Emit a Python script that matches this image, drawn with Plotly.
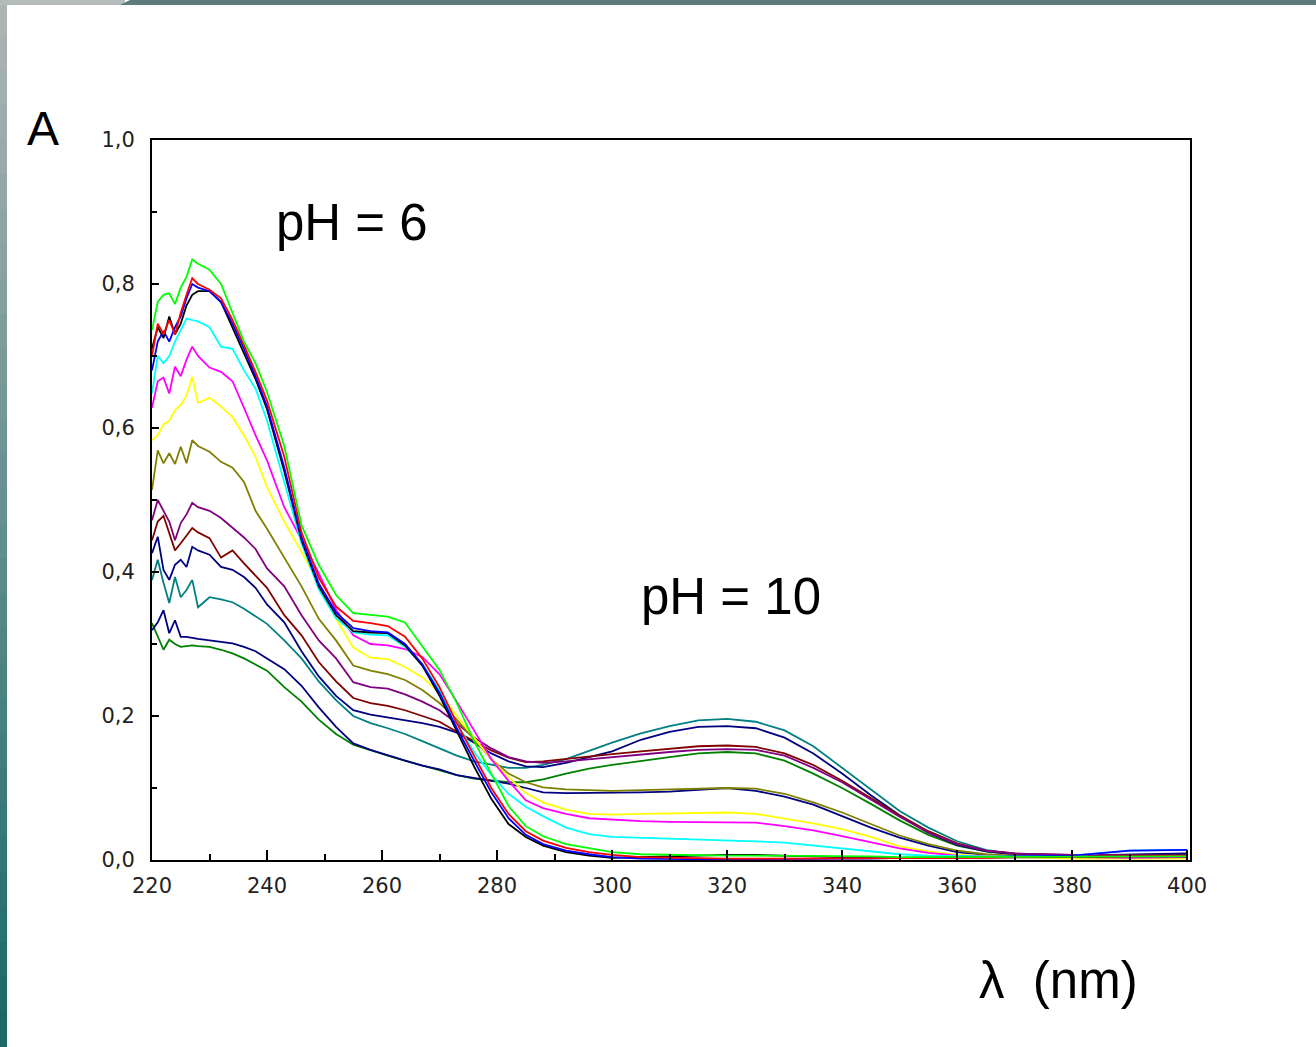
import plotly.graph_objects as go

# ---------------- data ----------------
wavelength = [220, 221, 222, 223, 224, 225, 226, 227, 228, 230, 232, 234, 236, 238, 240,
              243, 246, 249, 252, 255, 258, 261, 264, 267, 270, 273, 276, 279, 282, 285,
              288, 292, 296, 300, 305, 310, 315, 320, 325, 330, 335, 340, 345, 350, 355,
              360, 365, 370, 380, 390, 400]

a_green = [0.736, 0.775, 0.785, 0.787, 0.772, 0.795, 0.810, 0.834, 0.828, 0.820, 0.800, 0.760, 0.720, 0.690, 0.650,
           0.575, 0.465, 0.410, 0.368, 0.343, 0.340, 0.338, 0.330, 0.297, 0.264, 0.218, 0.165, 0.120, 0.075, 0.047,
           0.033, 0.022, 0.016, 0.011, 0.008, 0.007, 0.006, 0.006, 0.006, 0.006, 0.005, 0.005, 0.005, 0.004, 0.004,
           0.004, 0.004, 0.004, 0.004, 0.005, 0.005]
a_red = [0.700, 0.745, 0.730, 0.750, 0.730, 0.760, 0.785, 0.808, 0.800, 0.792, 0.780, 0.750, 0.715, 0.678, 0.638,
         0.560, 0.455, 0.392, 0.352, 0.332, 0.329, 0.325, 0.310, 0.280, 0.240, 0.190, 0.145, 0.100, 0.064, 0.040,
         0.027, 0.017, 0.011, 0.007, 0.004, 0.003, 0.002, 0.002, 0.002, 0.002, 0.002, 0.002, 0.002, 0.003, 0.003,
         0.003, 0.003, 0.004, 0.004, 0.005, 0.006]
a_blue = [0.680, 0.720, 0.735, 0.720, 0.740, 0.755, 0.780, 0.800, 0.795, 0.790, 0.775, 0.745, 0.710, 0.672, 0.630,
          0.545, 0.448, 0.384, 0.344, 0.322, 0.318, 0.316, 0.300, 0.272, 0.232, 0.183, 0.138, 0.094, 0.058, 0.035,
          0.022, 0.013, 0.008, 0.004, 0.002, 0.001, 0.001, 0.001, 0.001, 0.001, 0.001, 0.002, 0.002, 0.003, 0.003,
          0.003, 0.004, 0.005, 0.006, 0.013, 0.014]
a_black = [0.710, 0.740, 0.725, 0.755, 0.730, 0.745, 0.770, 0.785, 0.790, 0.790, 0.775, 0.740, 0.705, 0.668, 0.626,
           0.540, 0.444, 0.380, 0.340, 0.318, 0.316, 0.315, 0.298, 0.270, 0.228, 0.178, 0.130, 0.085, 0.050, 0.032,
           0.020, 0.011, 0.006, 0.003, 0.004, 0.006, 0.007, 0.007, 0.007, 0.006, 0.004, 0.003, 0.003, 0.003, 0.003,
           0.003, 0.003, 0.004, 0.004, 0.005, 0.005]
a_cyan = [0.648, 0.700, 0.690, 0.700, 0.720, 0.735, 0.752, 0.750, 0.748, 0.740, 0.713, 0.710, 0.680, 0.655, 0.610,
          0.525, 0.440, 0.376, 0.336, 0.316, 0.313, 0.312, 0.296, 0.272, 0.235, 0.190, 0.150, 0.118, 0.092, 0.074,
          0.061, 0.045, 0.036, 0.032, 0.031, 0.030, 0.029, 0.028, 0.026, 0.024, 0.020, 0.016, 0.011, 0.008, 0.006,
          0.005, 0.005, 0.005, 0.006, 0.013, 0.014]
a_magenta = [0.628, 0.665, 0.670, 0.648, 0.685, 0.672, 0.695, 0.713, 0.700, 0.684, 0.678, 0.665, 0.628, 0.590, 0.555,
             0.490, 0.445, 0.398, 0.348, 0.312, 0.300, 0.298, 0.293, 0.282, 0.258, 0.220, 0.180, 0.140, 0.110, 0.083,
             0.072, 0.064, 0.058, 0.056, 0.054, 0.053, 0.053, 0.053, 0.052, 0.047, 0.041, 0.033, 0.024, 0.016, 0.010,
             0.006, 0.005, 0.004, 0.004, 0.003, 0.004]
a_yellow = [0.583, 0.590, 0.605, 0.610, 0.625, 0.632, 0.645, 0.671, 0.635, 0.642, 0.630, 0.615, 0.590, 0.560, 0.518,
            0.470, 0.428, 0.385, 0.335, 0.295, 0.281, 0.279, 0.268, 0.254, 0.232, 0.200, 0.170, 0.140, 0.115, 0.093,
            0.080, 0.070, 0.064, 0.063, 0.064, 0.065, 0.066, 0.066, 0.064, 0.058, 0.051, 0.043, 0.032, 0.019, 0.012,
            0.007, 0.005, 0.004, 0.002, 0.002, 0.002]
a_olive = [0.514, 0.569, 0.551, 0.565, 0.550, 0.574, 0.551, 0.583, 0.575, 0.567, 0.553, 0.545, 0.525, 0.485, 0.460,
           0.420, 0.380, 0.335, 0.305, 0.270, 0.263, 0.258, 0.250, 0.236, 0.218, 0.195, 0.168, 0.140, 0.120, 0.108,
           0.101, 0.098, 0.097, 0.096, 0.097, 0.098, 0.099, 0.100, 0.099, 0.092, 0.080, 0.066, 0.050, 0.034, 0.022,
           0.013, 0.008, 0.006, 0.004, 0.004, 0.004]
a_purple = [0.472, 0.500, 0.485, 0.470, 0.444, 0.468, 0.480, 0.496, 0.490, 0.485, 0.475, 0.462, 0.448, 0.432, 0.405,
            0.380, 0.340, 0.305, 0.280, 0.247, 0.240, 0.238, 0.230, 0.220, 0.208, 0.190, 0.170, 0.155, 0.143, 0.137,
            0.135, 0.137, 0.140, 0.143, 0.147, 0.150, 0.153, 0.154, 0.153, 0.145, 0.128, 0.108, 0.084, 0.060, 0.038,
            0.022, 0.013, 0.009, 0.007, 0.006, 0.006]
a_maroon = [0.444, 0.470, 0.478, 0.455, 0.430, 0.440, 0.450, 0.461, 0.455, 0.447, 0.420, 0.430, 0.412, 0.395, 0.378,
            0.340, 0.312, 0.275, 0.248, 0.225, 0.218, 0.214, 0.208, 0.200, 0.192, 0.178, 0.165, 0.152, 0.142, 0.136,
            0.137, 0.140, 0.144, 0.147, 0.151, 0.155, 0.158, 0.159, 0.157, 0.148, 0.132, 0.110, 0.086, 0.062, 0.040,
            0.023, 0.013, 0.009, 0.007, 0.006, 0.006]
a_navy = [0.426, 0.449, 0.403, 0.389, 0.410, 0.417, 0.407, 0.435, 0.430, 0.424, 0.407, 0.403, 0.393, 0.378, 0.355,
          0.330, 0.290, 0.255, 0.228, 0.208, 0.202, 0.198, 0.195, 0.190, 0.185, 0.177, 0.163, 0.148, 0.137, 0.130,
          0.129, 0.135, 0.143, 0.151, 0.167, 0.178, 0.185, 0.186, 0.183, 0.170, 0.148, 0.120, 0.090, 0.062, 0.038,
          0.021, 0.012, 0.008, 0.006, 0.008, 0.009]
a_teal = [0.389, 0.417, 0.385, 0.357, 0.393, 0.365, 0.375, 0.389, 0.351, 0.365, 0.362, 0.358, 0.349, 0.338, 0.328,
          0.305, 0.280, 0.248, 0.222, 0.200, 0.190, 0.183, 0.175, 0.165, 0.155, 0.145, 0.137, 0.132, 0.128, 0.128,
          0.132, 0.140, 0.152, 0.163, 0.176, 0.186, 0.194, 0.196, 0.192, 0.180, 0.158, 0.128, 0.097, 0.068, 0.045,
          0.026, 0.014, 0.008, 0.006, 0.007, 0.008]
a_darkblue = [0.319, 0.330, 0.347, 0.315, 0.333, 0.310, 0.310, 0.308, 0.307, 0.305, 0.303, 0.301, 0.296, 0.290, 0.280,
              0.265, 0.242, 0.212, 0.185, 0.162, 0.153, 0.145, 0.138, 0.131, 0.126, 0.118, 0.114, 0.111, 0.106, 0.100,
              0.094, 0.093, 0.093, 0.093, 0.094, 0.095, 0.098, 0.100, 0.096, 0.088, 0.077, 0.061, 0.045, 0.031, 0.020,
              0.011, 0.007, 0.005, 0.004, 0.005, 0.005]
a_darkgreen = [0.329, 0.310, 0.292, 0.306, 0.300, 0.296, 0.297, 0.298, 0.297, 0.296, 0.292, 0.287, 0.280, 0.272, 0.263,
               0.240, 0.220, 0.195, 0.175, 0.160, 0.152, 0.145, 0.138, 0.131, 0.125, 0.118, 0.113, 0.110, 0.108, 0.108,
               0.112, 0.120, 0.127, 0.132, 0.138, 0.143, 0.148, 0.150, 0.148, 0.138, 0.120, 0.100, 0.078, 0.055, 0.035,
               0.020, 0.012, 0.008, 0.006, 0.007, 0.007]

series = [
    ("darkgreen", a_darkgreen, "#008000"),
    ("darkblue", a_darkblue, "#000080"),
    ("teal", a_teal, "#008080"),
    ("navy", a_navy, "#000080"),
    ("maroon", a_maroon, "#800000"),
    ("purple", a_purple, "#800080"),
    ("olive", a_olive, "#808000"),
    ("yellow", a_yellow, "#ffff00"),
    ("magenta", a_magenta, "#ff00ff"),
    ("cyan", a_cyan, "#00ffff"),
    ("black", a_black, "#000000"),
    ("blue", a_blue, "#0000ff"),
    ("red", a_red, "#ff0000"),
    ("green", a_green, "#00ff00"),
]

x_ticks = [220, 240, 260, 280, 300, 320, 340, 360, 380, 400]
y_ticks = [0.0, 0.2, 0.4, 0.6, 0.8, 1.0]
y_ticktext = ["0,0", "0,2", "0,4", "0,6", "0,8", "1,0"]

# ---------------- figure ----------------
W, H = 1316, 1047
L, R, T, B = 152, 1190, 140, 860


def px(xp):
    return (xp - L) / (R - L)


def py(yp):
    return (B - yp) / (B - T)


fig = go.Figure()
for name, vals, col in series:
    fig.add_trace(go.Scatter(x=wavelength, y=vals, mode="lines", name=name,
                             line=dict(color=col, width=1.8), hoverinfo="skip",
                             showlegend=False))

tickfont = dict(family="DejaVu Sans", size=21, color="#222222")

fig.update_layout(
    width=W, height=H,
    margin=dict(l=L, r=W - R, t=T, b=H - B, pad=0),
    paper_bgcolor="white", plot_bgcolor="white",
    showlegend=False,
    xaxis=dict(range=[220, 400.5], tickvals=x_ticks, ticktext=[str(v) for v in x_ticks],
               ticks="inside", ticklen=10, tickwidth=1.5, tickcolor="black",
               minor=dict(dtick=10, tick0=220, ticks="inside", ticklen=6, tickwidth=1.5, tickcolor="black"),
               showline=True, linecolor="black", linewidth=2, mirror=True,
               showgrid=False, zeroline=False, tickfont=tickfont, ticklabelstandoff=6),
    yaxis=dict(range=[0, 1.0], tickvals=y_ticks, ticktext=y_ticktext,
               ticks="inside", ticklen=7, tickwidth=1.5, tickcolor="black",
               minor=dict(dtick=0.1, tick0=0, ticks="inside", ticklen=5, tickwidth=1.5, tickcolor="black"),
               showline=True, linecolor="black", linewidth=2, mirror=True,
               showgrid=False, zeroline=False, tickfont=tickfont, ticklabelstandoff=11),
)

annos = [
    ("A", 43, 128, 48),
    ("pH = 6", 352, 222, 51),
    ("pH = 10", 731, 596, 51),
    ("λ  (nm)", 1058, 980, 51),
]
for txt, xp, yp, sz in annos:
    fig.add_annotation(text=txt, x=px(xp), y=py(yp), xref="paper", yref="paper",
                       showarrow=False, xanchor="center", yanchor="middle",
                       font=dict(family="Liberation Sans, Arial", size=sz, color="black"))

# decorative frame strips (left gradient, top band)
shapes = []
n_seg = 30
top_rgb = (172, 180, 180)
bot_rgb = (26, 104, 104)
for i in range(n_seg):
    f = i / (n_seg - 1)
    c = tuple(int(round(top_rgb[k] + (bot_rgb[k] - top_rgb[k]) * f)) for k in range(3))
    y0 = H * i / n_seg
    y1 = H * (i + 1) / n_seg + 1
    shapes.append(dict(type="rect", xref="paper", yref="paper",
                       x0=px(0), x1=px(7), y0=py(y1), y1=py(y0),
                       fillcolor="rgb(%d,%d,%d)" % c, line=dict(width=0), layer="above"))
shapes.append(dict(type="rect", xref="paper", yref="paper", x0=px(0), x1=px(125),
                   y0=py(5), y1=py(0), fillcolor="#b3bbbb", line=dict(width=0), layer="above"))
shapes.append(dict(type="path", xref="paper", yref="paper",
                   path="M %f,%f L %f,%f L %f,%f L %f,%f Z" % (px(120), py(5), px(130), py(0), px(W), py(0), px(W), py(5)),
                   fillcolor="#5f7a7a", line=dict(width=0), layer="above"))
fig.update_layout(shapes=shapes)

fig.write_html("out.html", config={"displayModeBar": False},
               post_script="document.body.style.margin='0';document.body.style.overflow='hidden';")
